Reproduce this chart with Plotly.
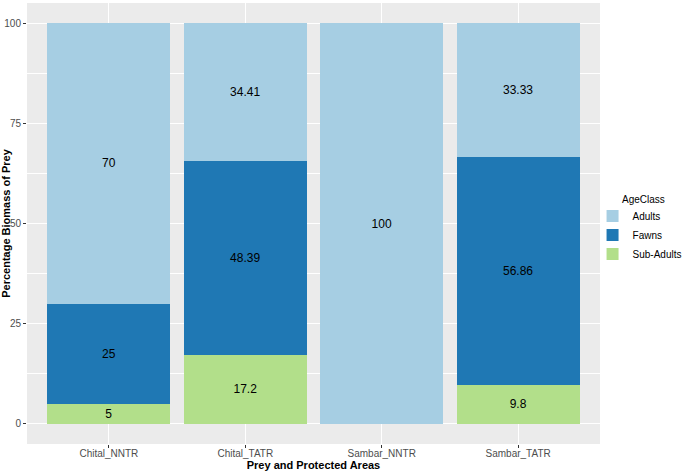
import plotly.graph_objects as go

categories = ["Chital_NNTR", "Chital_TATR", "Sambar_NNTR", "Sambar_TATR"]
sub_adults = [5, 17.2, 0, 9.8]
fawns = [25, 48.39, 0, 56.86]
adults = [70, 34.41, 100, 33.33]
y_ticks = [0, 25, 50, 75, 100]

series = [
    ("Sub-Adults", sub_adults, "#B2DF8A", 3),
    ("Fawns", fawns, "#1F78B4", 2),
    ("Adults", adults, "#A6CEE3", 1),
]

fig = go.Figure()
for name, vals, color, rank in series:
    fig.add_trace(go.Bar(
        x=categories, y=vals, name=name,
        marker=dict(color=color, line=dict(width=0)),
        text=[("%g" % v) if v else "" for v in vals],
        textposition="inside", insidetextanchor="middle", textangle=0,
        textfont=dict(color="black", size=12, family="Liberation Sans, Arial"),
        constraintext="none", legendrank=rank, width=0.9,
        hoverinfo="skip",
    ))

fig.update_layout(
    barmode="stack",
    width=685, height=471,
    margin=dict(l=27, r=85, t=3, b=27, autoexpand=False),
    paper_bgcolor="white", plot_bgcolor="#EBEBEB",
    font=dict(family="Liberation Sans, Arial", size=10, color="#4D4D4D"),
    showlegend=True,
    legend=dict(
        x=0.987, xanchor="left", y=0.474, yanchor="middle",
        font=dict(size=10, color="black"), bgcolor="rgba(0,0,0,0)",
        traceorder="normal", itemwidth=30, tracegroupgap=0,
    ),
    annotations=[dict(
        text="AgeClass", x=(620 - 27) / 573, y=1 - (199 - 3) / 441,
        xref="paper", yref="paper", xanchor="left", yanchor="middle",
        showarrow=False, font=dict(size=10, color="black"),
    )],
    uniformtext=dict(mode=False),
)

fig.update_xaxes(
    range=[-0.6, 3.6], showgrid=True, gridcolor="white", gridwidth=1.1,
    ticks="outside", ticklen=3, tickcolor="#333333", tickwidth=1,
    tickfont=dict(size=10, color="#4D4D4D"), ticklabelstandoff=-3,
    title=dict(text="<b>Prey and Protected Areas</b>", font=dict(size=11, color="black"), standoff=0),
    zeroline=False, showline=False, automargin=False,
)
fig.update_yaxes(
    range=[-5, 105], tickvals=y_ticks, ticktext=[str(t) for t in y_ticks],
    showgrid=True, gridcolor="white", gridwidth=1.1,
    minor=dict(tickvals=[12.5, 37.5, 62.5, 87.5], showgrid=True, gridcolor="white", gridwidth=0.5, ticks=""),
    ticks="outside", ticklen=3, tickcolor="#333333", tickwidth=1,
    tickfont=dict(size=10, color="#4D4D4D"),
    title=dict(text="<b>Percentage Biomass of Prey</b>", font=dict(size=11, color="black"), standoff=0),
    zeroline=False, showline=False, automargin=False,
)

fig.write_html("out.html", config={"displayModeBar": False},
               post_script="document.body.style.margin='0';")
